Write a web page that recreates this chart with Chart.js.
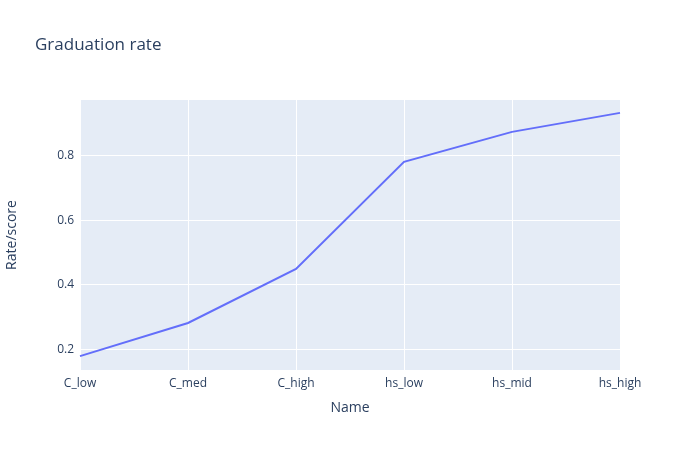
<!DOCTYPE html>
<html>
<head>
<meta charset="utf-8">
<script src="https://cdn.jsdelivr.net/npm/chart.js@4"></script>
<style>
  html, body { margin: 0; padding: 0; background: #fff; }
  #wrap { width: 700px; height: 450px; }
</style>
</head>
<body>
<div id="wrap"><canvas id="chart"></canvas></div>
<script>
// Data
const names = ['C_low', 'C_med', 'C_high', 'hs_low', 'hs_mid', 'hs_high'];
const rates = [0.178, 0.281, 0.449, 0.782, 0.875, 0.934];
const yTicks = [0.2, 0.4, 0.6, 0.8];

const FONT = '"Open Sans", "Liberation Sans", sans-serif';
const TEXT = '#2a3f5f';

// Plot background + title
const plotBg = {
    id: 'plotBg',
    beforeDraw(chart) {
        const { ctx, chartArea: a } = chart;
        ctx.save();
        ctx.fillStyle = '#E5ECF6';
        ctx.fillRect(a.left, a.top, a.right - a.left, a.bottom - a.top);
        ctx.fillStyle = TEXT;
        ctx.font = '17px ' + FONT;
        ctx.textBaseline = 'middle';
        ctx.fillText('Graduation rate', 35, 45);
        ctx.restore();
    }
};

new Chart(document.getElementById('chart'), {
    type: 'line',
    data: {
        labels: names,
        datasets: [{
            data: rates,
            borderColor: '#636efa',
            borderWidth: 2,
            pointRadius: 0,
            tension: 0,
            fill: false
        }]
    },
    options: {
        responsive: true,
        maintainAspectRatio: false,
        animation: false,
        layout: { padding: { top: 100, right: 80, bottom: 30, left: 0 } },
        plugins: { legend: { display: false }, tooltip: { enabled: false } },
        scales: {
            x: {
                type: 'category',
                offset: false,
                grid: { color: '#ffffff', lineWidth: 1, drawTicks: false },
                border: { display: false },
                ticks: { color: TEXT, font: { family: FONT, size: 12 }, padding: 6, maxRotation: 0 },
                title: { display: true, text: 'Name', color: TEXT, font: { family: FONT, size: 14 }, padding: { top: 10 } },
                afterFit(scale) { scale.height = 50; }
            },
            y: {
                min: 0.135,
                max: 0.974,
                grid: { color: '#ffffff', lineWidth: 1, drawTicks: false },
                border: { display: false },
                afterBuildTicks(scale) { scale.ticks = yTicks.map(v => ({ value: v })); },
                ticks: { color: TEXT, font: { family: FONT, size: 12 }, padding: 6, callback: v => v.toFixed(1) },
                title: { display: true, text: 'Rate/score', color: TEXT, font: { family: FONT, size: 14 }, padding: { bottom: 8 } },
                afterFit(scale) { scale.width = 80; }
            }
        }
    },
    plugins: [plotBg]
});
</script>
</body>
</html>
